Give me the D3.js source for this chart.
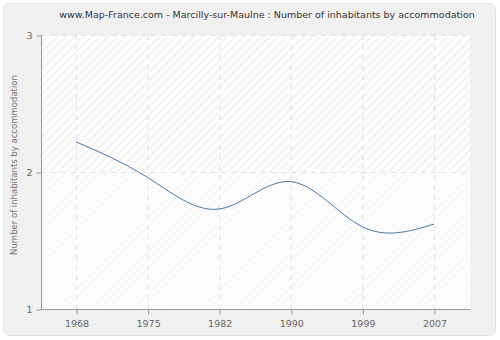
<!DOCTYPE html>
<html>
<head>
<meta charset="utf-8">
<script src="https://cdn.jsdelivr.net/npm/d3@7"></script>
<style>
  html, body { margin: 0; padding: 0; background: #ffffff; }
  svg { display: block; }
  text { font-family: "DejaVu Sans", Verdana, sans-serif; }
</style>
</head>
<body>
<svg id="chart" width="500" height="340"></svg>
<script>
// Census years and average inhabitants per dwelling
const years = ["1968", "1975", "1982", "1990", "1999", "2007"];
const inhabitants = [2.22, 1.96, 1.73, 1.93, 1.60, 1.62];
const yTicks = [1, 2, 3];

const titleText = "www.Map-France.com - Marcilly-sur-Maulne : Number of inhabitants by accommodation";
const yLabel = "Number of inhabitants by accommodation";

const svg = d3.select("#chart");
const W = 500, H = 340;
const plot = { left: 41, right: 470, top: 35, bottom: 309 };

// Outer panel
svg.append("rect")
  .attr("x", 3.5).attr("y", 3.5)
  .attr("width", W - 8).attr("height", H - 8)
  .attr("rx", 6).attr("ry", 6)
  .attr("fill", "#f0f0f0")
  .attr("stroke", "#e2e2e2");

// Hatch patterns for the plot background bands
const defs = svg.append("defs");
function hatch(id, color) {
  const p = defs.append("pattern")
    .attr("id", id)
    .attr("patternUnits", "userSpaceOnUse")
    .attr("width", 6).attr("height", 6)
    .attr("patternTransform", "rotate(45)");
  p.append("rect").attr("width", 6).attr("height", 6).attr("fill", "#fcfcfc");
  p.append("line")
    .attr("x1", 0).attr("y1", 0).attr("x2", 0).attr("y2", 6)
    .attr("stroke", color).attr("stroke-width", 2);
}
hatch("hatchDark", "#eeeeee");
hatch("hatchLight", "#f5f5f5");

const x = d3.scalePoint()
  .domain(years)
  .range([76, 434]);

const y = d3.scaleLinear()
  .domain([1, 3])
  .range([plot.bottom, plot.top]);

// Background bands
svg.append("rect")
  .attr("x", plot.left).attr("y", y(3))
  .attr("width", plot.right - plot.left).attr("height", y(2) - y(3))
  .attr("fill", "url(#hatchDark)");
svg.append("rect")
  .attr("x", plot.left).attr("y", y(2))
  .attr("width", plot.right - plot.left).attr("height", y(1) - y(2))
  .attr("fill", "url(#hatchLight)");

// Grid lines
const grid = svg.append("g")
  .attr("stroke", "#e2e2e2")
  .attr("stroke-dasharray", "5,5");
grid.selectAll(".vg").data(years).join("line")
  .attr("x1", d => x(d) + 0.5).attr("x2", d => x(d) + 0.5)
  .attr("y1", plot.top).attr("y2", plot.bottom);
grid.selectAll(".hg").data(yTicks).join("line")
  .attr("x1", plot.left).attr("x2", plot.right)
  .attr("y1", d => Math.round(y(d)) + 0.5).attr("y2", d => Math.round(y(d)) + 0.5);

// Axes
const xAxis = d3.axisBottom(x).tickSize(5).tickPadding(6);
const gx = svg.append("g")
  .attr("transform", `translate(0.5,${plot.bottom + 0.5})`)
  .call(xAxis);
gx.select(".domain").attr("d", `M${plot.left - 0.5},0H${plot.right}`);

const yAxis = d3.axisLeft(y).tickValues(yTicks).tickFormat(d3.format("d")).tickSize(5).tickPadding(4);
const gy = svg.append("g")
  .attr("transform", `translate(${plot.left + 0.5},0.5)`)
  .call(yAxis);
gy.select(".domain").attr("d", `M0,${plot.top - 0.5}V${plot.bottom}`);

[gx, gy].forEach(g => {
  g.selectAll(".domain").attr("stroke", "#999999");
  g.selectAll(".tick line").attr("stroke", "#999999");
  g.selectAll(".tick text")
    .attr("fill", "#666666")
    .style("font-size", "9.5px")
    .style("font-family", "'DejaVu Sans', Verdana, sans-serif");
});

// Data line
const line = d3.line()
  .x((d, i) => x(years[i]))
  .y(d => y(d))
  .curve(d3.curveNatural);

svg.append("path")
  .datum(inhabitants)
  .attr("d", line)
  .attr("fill", "none")
  .attr("stroke", "#4a78a8")
  .attr("stroke-width", 1);

// Title
svg.append("text")
  .attr("x", 267).attr("y", 18)
  .attr("text-anchor", "middle")
  .attr("fill", "#333333")
  .style("font-size", "9.5px")
  .text(titleText);

// Y axis label
svg.append("text")
  .attr("transform", `translate(17,${(plot.top + plot.bottom) / 2 - 7}) rotate(-90)`)
  .attr("text-anchor", "middle")
  .attr("fill", "#777777")
  .style("font-size", "8.5px")
  .text(yLabel);
</script>
</body>
</html>
